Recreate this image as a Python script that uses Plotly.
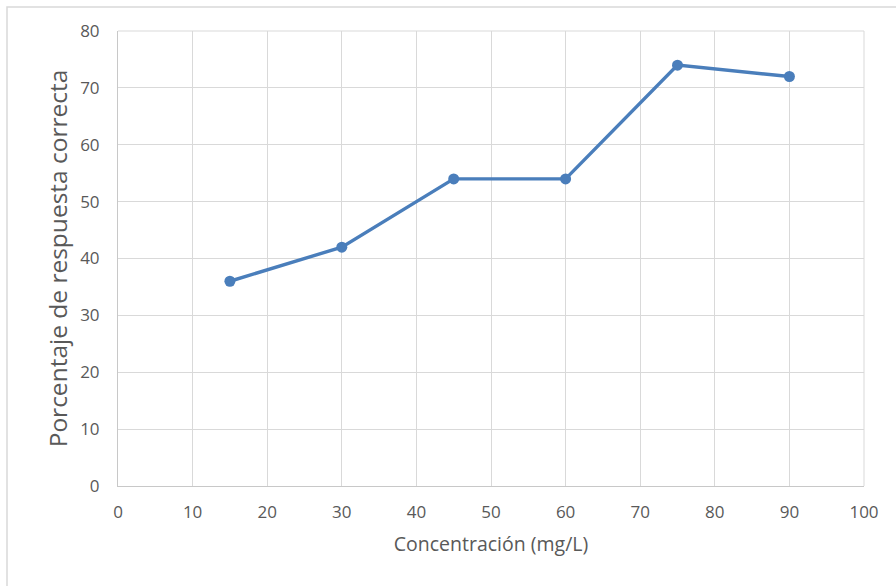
import plotly.graph_objects as go

concentracion = [15, 30, 45, 60, 75, 90]
porcentaje = [36, 42, 54, 54, 74, 72]
x_ticks = [0, 10, 20, 30, 40, 50, 60, 70, 80, 90, 100]
y_ticks = [0, 10, 20, 30, 40, 50, 60, 70, 80]

L, R, T, B = 118, 32, 31, 100
W, H = 896, 586
pw, ph = W - L - R, H - T - B

fig = go.Figure()
fig.add_trace(go.Scatter(
    x=concentracion, y=porcentaje, mode="lines+markers",
    line=dict(color="#4a7ebb", width=3.4),
    marker=dict(color="#4a7ebb", size=11),
    showlegend=False,
))

font_family = "Open Sans, Noto Sans, sans-serif"
txt = "#595959"
fig.update_layout(
    width=W, height=H,
    margin=dict(l=L, r=R, t=T, b=B),
    paper_bgcolor="white", plot_bgcolor="white",
    font=dict(family=font_family, color=txt),
    xaxis=dict(
        range=[0, 100], tickvals=x_ticks, showgrid=True, gridcolor="#d9d9d9",
        gridwidth=1, showline=True, linecolor="#c8c8c8", linewidth=1,
        zeroline=False, ticks="", tickfont=dict(size=17, color=txt),
        ticklabelstandoff=11,
        title=dict(text="Concentración (mg/L)", font=dict(size=19.5, color=txt), standoff=14),
    ),
    yaxis=dict(
        range=[0, 80], tickvals=y_ticks, showgrid=True, gridcolor="#d9d9d9",
        gridwidth=1, showline=True, linecolor="#c8c8c8", linewidth=1,
        zeroline=False, ticks="", tickfont=dict(size=17, color=txt),
        ticklabelstandoff=14,
        title=dict(text="Porcentaje de respuesta correcta", font=dict(size=24.5, color=txt), standoff=5),
    ),
    shapes=[
        dict(type="rect", xref="paper", yref="paper",
             x0=(7 - L) / pw, x1=(W + 5 - L) / pw,
             y0=(H - B - (H + 5)) / ph, y1=(H - B - 7) / ph,
             line=dict(color="#d9d9d9", width=1.5), fillcolor="rgba(0,0,0,0)", layer="below"),
        dict(type="line", xref="paper", yref="paper", x0=1, x1=1, y0=0, y1=1,
             line=dict(color="#d9d9d9", width=1)),
        dict(type="line", xref="paper", yref="paper", x0=0, x1=1, y0=1, y1=1,
             line=dict(color="#d9d9d9", width=1)),
    ],
)

fig.write_html("out.html")
